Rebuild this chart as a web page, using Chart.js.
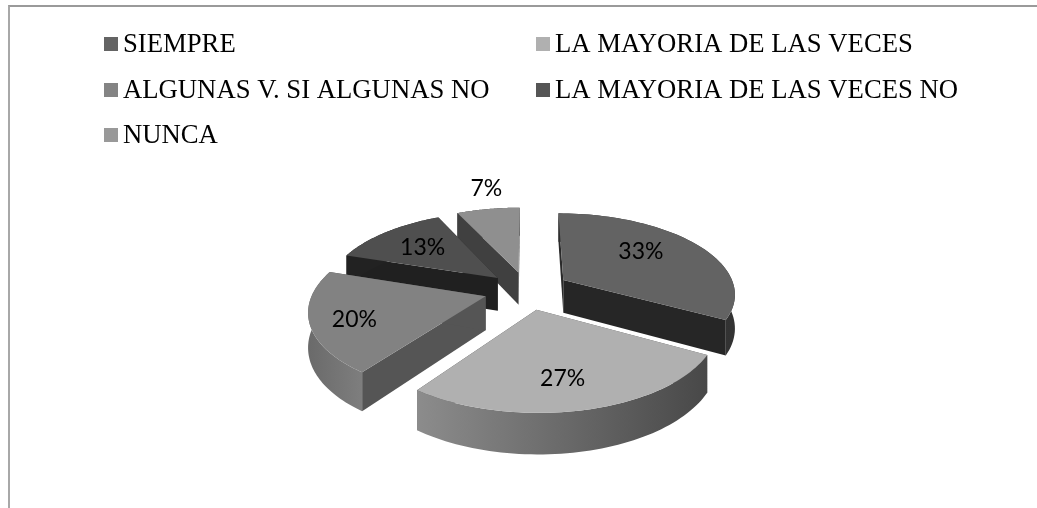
<!DOCTYPE html>
<html><head><meta charset="utf-8">
<style>
html,body{margin:0;padding:0;background:#fff;overflow:hidden}
#wrap{position:relative;width:1037px;height:508px}
#frame{position:absolute;left:8px;top:5px;right:0;bottom:0;border-top:2px solid #9a9a9a;border-left:2px solid #a8a8a8}
canvas{position:absolute;left:0;top:0}
</style>
<script src="https://cdn.jsdelivr.net/npm/chart.js@4/dist/chart.umd.min.js"></script>
</head><body><div id="wrap"><div id="frame"></div><canvas id="c" width="1037" height="508"></canvas></div>
<script>
const categories = ['SIEMPRE','LA MAYORIA DE LAS VECES','ALGUNAS V. SI ALGUNAS NO','LA MAYORIA DE LAS VECES NO','NUNCA'];
const values = [33,27,20,13,7];
const swatchColors = ['#646464','#b0b0b0','#848484','#555555','#999999'];
const topColors = ['#636363','#b0b0b0','#828282','#4f4f4f','#8f8f8f'];
const arcWallFrom = ['#2e2e2e','#8c8c8c','#6a6a6a','#222222','#404040'];
const arcWallTo = ['#333333','#484848','#7e7e7e','#222222','#404040'];
const startWall = ['#2a2a2a','#555555','#555555','#202020','#404040'];
const endWall = ['#262626','#444444','#555555','#202020','#404040'];
const explode = [43,42,43,40,40];
const drawOrder = [4,3,0,2,1];
const labelReach = [0.63,0.715,0.76,0.65,1.37];
const labelTurn = [-5,2,-2,0,2];
const legendCols = [104,536];
const legendRows = [52,98,143];

const K = 0.465, PERSP = 0.194, DEPTH = 213, WALL = 33.5;

const pie3d = {
  id:'pie3d',
  beforeDatasetsDraw(chart){
    const ctx = chart.ctx, arcs = chart.getDatasetMeta(0).data;
    const proj = (a,u,v,h=0)=>{
      const s = 1/(1-PERSP*v/DEPTH);
      return [a.x+u*s, a.y+K*v*s+h*s];
    };
    const geom = a=>{
      const o=a.options.offset, mid=(a.startAngle+a.endAngle)/2;
      return {ox:Math.cos(mid)*o, oy:Math.sin(mid)*o, r:a.outerRadius};
    };
    const poly=(pts,fill)=>{
      ctx.beginPath();pts.forEach((p,i)=>i?ctx.lineTo(p[0],p[1]):ctx.moveTo(p[0],p[1]));
      ctx.closePath();ctx.fillStyle=fill;ctx.fill();
    };
    ctx.save();
    drawOrder.forEach(i=>{
      const a=arcs[i], g=geom(a), N=60;
      const rim=[],rimLow=[];
      for(let t=0;t<=N;t++){
        const th=a.startAngle+(a.endAngle-a.startAngle)*t/N;
        const u=g.ox+g.r*Math.cos(th), v=g.oy+g.r*Math.sin(th);
        rim.push(proj(a,u,v)); rimLow.push(proj(a,u,v,WALL));
      }
      const apex=proj(a,g.ox,g.oy), apexLow=proj(a,g.ox,g.oy,WALL);
      const xs=rim.map(p=>p[0]);
      const gr=ctx.createLinearGradient(Math.min(...xs),0,Math.max(...xs),0);
      gr.addColorStop(0,arcWallFrom[i]);gr.addColorStop(1,arcWallTo[i]);
      poly([apex,rim[0],rimLow[0],apexLow],startWall[i]);
      poly([apex,rim[N],rimLow[N],apexLow],endWall[i]);
      poly(rim.concat(rimLow.slice().reverse()),gr);
      poly([apex].concat(rim),topColors[i]);
    });
    ctx.restore();
    return false;
  },
  afterDraw(chart){
    const ctx=chart.ctx, arcs=chart.getDatasetMeta(0).data;
    const total=values.reduce((x,y)=>x+y,0);
    ctx.save();
    ctx.fillStyle='#000';ctx.textAlign='center';ctx.textBaseline='middle';
    ctx.font='23px Lato, "Open Sans", sans-serif';
    arcs.forEach((a,i)=>{
      const o=a.options.offset, mid=(a.startAngle+a.endAngle)/2+labelTurn[i]*Math.PI/180;
      const d=o+a.outerRadius*labelReach[i];
      const u=Math.cos(mid)*d, v=Math.sin(mid)*d, s=1/(1-PERSP*v/DEPTH);
      ctx.fillText(Math.round(values[i]/total*100)+'%',a.x+u*s,a.y+K*v*s);
    });
    ctx.textAlign='left';ctx.textBaseline='alphabetic';
    ctx.font='26.7px "Liberation Serif", serif';
    categories.forEach((name,i)=>{
      const col=legendCols[i%2], base=legendRows[Math.floor(i/2)];
      ctx.fillStyle=swatchColors[i];
      ctx.fillRect(col,base-15,14,14);
      ctx.fillStyle='#000';
      ctx.fillText(name,col+19,base);
    });
    ctx.restore();
  }
};

new Chart(document.getElementById('c'),{
  type:'pie',
  data:{labels:categories,datasets:[{data:values,backgroundColor:topColors,borderWidth:0,offset:explode,radius:172}]},
  options:{
    responsive:false,animation:false,rotation:0,
    layout:{padding:{left:106,right:89,top:80,bottom:8}},
    plugins:{legend:{display:false},tooltip:{enabled:false}}
  },
  plugins:[pie3d]
});
</script></body></html>
